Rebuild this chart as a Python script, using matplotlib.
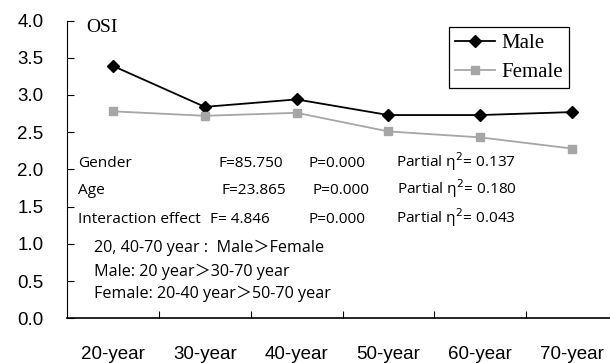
import matplotlib
matplotlib.use("Agg")
import matplotlib.pyplot as plt
import numpy as np

# =========================
# Datos
# =========================
grupos = ['20-year', '30-year', '40-year', '50-year', '60-year', '70-year']
osi_male = [3.39, 2.84, 2.94, 2.73, 2.73, 2.77]
osi_female = [2.78, 2.72, 2.76, 2.51, 2.43, 2.28]

efectos = ['Gender', 'Age', 'Interaction effect']
valores_f = ['85.750', '23.865', ' 4.846']
valores_p = ['0.000', '0.000', '0.000']
valores_eta = ['0.137', '0.180', '0.043']

comparaciones = [
    '20, 40-70 year :  Male\uff1eFemale',
    'Male: 20 year\uff1e30-70 year',
    'Female: 20-40 year\uff1e50-70 year',
]

fuente_txt = ['Open Sans', 'Noto Sans CJK SC', 'DejaVu Sans']
fuente_serif = ['Liberation Serif', 'DejaVu Serif']

# =========================
# Figura
# =========================
W, H = 610, 363
fig = plt.figure(figsize=(W / 100, H / 100), dpi=100)
ax = fig.add_axes([67 / W, (H - 318.3) / H, (618 - 67) / W, (318.3 - 20.5) / H])

x = np.arange(len(grupos))
ax.plot(x, osi_male, color='black', marker='D', markersize=6.5, linewidth=1.3,
        label='Male', clip_on=False)
ax.plot(x, osi_female, color='#a6a6a6', marker='s', markersize=6, linewidth=1.3,
        label='Female', clip_on=False)

ax.set_xlim(-0.5, len(grupos) - 0.5)
ax.set_ylim(0, 4.0)
ax.set_yticks(np.arange(0, 4.01, 0.5))
ax.set_yticklabels([f'{v:.1f}' for v in np.arange(0, 4.01, 0.5)],
                   fontsize=13.5, family='Liberation Sans')
ax.set_xticks(x)
ax.set_xticklabels(grupos, fontsize=13.5, family='Liberation Sans')
ax.set_xticks(np.arange(0.5, len(grupos) - 0.5, 1), minor=True)

ax.tick_params(axis='y', direction='in', length=5, width=0.8, pad=17)
ax.tick_params(axis='x', which='major', length=0, pad=20)
ax.tick_params(axis='x', which='minor', direction='in', length=5, width=0.8)

for lado in ['top', 'right']:
    ax.spines[lado].set_visible(False)
ax.spines['left'].set_linewidth(0.8)
ax.spines['bottom'].set_linewidth(1.2)

# Titulo del eje
ax.text(-0.29, 3.85, 'OSI', fontsize=14, family=fuente_serif, va='baseline')

# Leyenda
leg = ax.legend(loc='upper right', bbox_to_anchor=(0.911, 0.978), borderaxespad=0,
                frameon=True, fancybox=False, edgecolor='black', framealpha=1,
                prop={'family': 'Liberation Serif', 'size': 15},
                handlelength=1.9, handletextpad=0.3, labelspacing=0.45,
                borderpad=0.3)
leg.get_frame().set_linewidth(0.9)

# =========================
# Resultados estadisticos
# =========================
filas_y = [2.03, 1.67, 1.28]
x_f = [1.152, 1.185, 1.06]
x_p = [2.13, 2.174, 2.13]
x_eta = [3.087, 3.098, 3.087]
for i, ef in enumerate(efectos):
    ax.text(-0.38, filas_y[i], ef, fontsize=11.1, family=fuente_txt, va='baseline')
    ax.text(x_f[i], filas_y[i], 'F=' + valores_f[i], fontsize=11.1, family=fuente_txt,
            va='baseline')
    ax.text(x_p[i], filas_y[i], 'P=' + valores_p[i], fontsize=11.1, family=fuente_txt,
            va='baseline')
    ax.text(x_eta[i], filas_y[i], 'Partial \u03b7$^{2}$= ' + valores_eta[i],
            fontsize=11.1, family=fuente_txt, va='baseline')

comp_y = [0.89, 0.57, 0.27]
for i, c in enumerate(comparaciones):
    ax.text(-0.207, comp_y[i], c, fontsize=11.6, family=fuente_txt, va='baseline')

fig.savefig('out.png', dpi=100)
plt.close(fig)
